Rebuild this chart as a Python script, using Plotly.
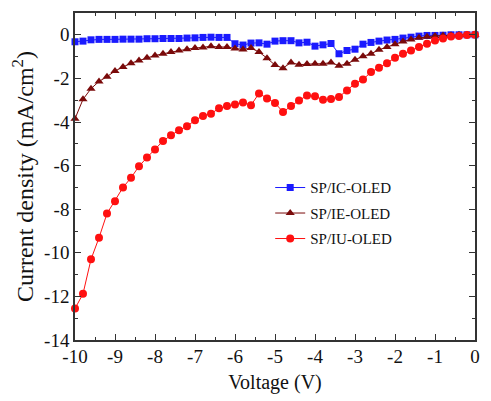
import plotly.graph_objects as go

voltage = [round(-10 + 0.2 * i, 1) for i in range(51)]

ic_oled = [-0.32, -0.29, -0.23, -0.21, -0.21, -0.21, -0.20, -0.20, -0.20, -0.18,
           -0.18, -0.17, -0.17, -0.17, -0.15, -0.14, -0.12, -0.11, -0.12, -0.12,
           -0.41, -0.47, -0.38, -0.37, -0.43, -0.29, -0.27, -0.27, -0.37, -0.34,
           -0.52, -0.46, -0.40, -0.87, -0.72, -0.66, -0.43, -0.35, -0.29, -0.24,
           -0.21, -0.15, -0.11, -0.06, -0.03, -0.03, -0.02, 0.0, 0.0, 0.0, 0.0]

ie_oled = [-3.85, -2.96, -2.47, -2.14, -1.92, -1.66, -1.48, -1.30, -1.18, -1.05,
           -0.95, -0.87, -0.79, -0.72, -0.66, -0.61, -0.58, -0.53, -0.56, -0.56,
           -0.63, -0.67, -0.61, -0.79, -1.07, -1.39, -1.53, -1.27, -1.37, -1.34,
           -1.33, -1.33, -1.27, -1.42, -1.33, -1.15, -0.98, -0.87, -0.69, -0.56,
           -0.43, -0.31, -0.21, -0.14, -0.09, -0.05, -0.03, -0.02, 0.0, 0.0, 0.0]

iu_oled = [-12.56, -11.88, -10.30, -9.31, -8.20, -7.63, -7.00, -6.56, -6.03, -5.63,
           -5.26, -4.87, -4.61, -4.38, -4.20, -3.92, -3.72, -3.62, -3.37, -3.27,
           -3.20, -3.11, -3.23, -2.69, -2.92, -3.13, -3.54, -3.27, -3.01, -2.79,
           -2.82, -2.98, -2.95, -2.85, -2.56, -2.24, -2.05, -1.71, -1.51, -1.30,
           -1.05, -0.87, -0.72, -0.56, -0.41, -0.26, -0.17, -0.08, -0.05, -0.01, 0.0]

x_tickvals = [-10, -9, -8, -7, -6, -5, -4, -3, -2, -1, 0]
x_ticktext = ["-10", "-9", "-8", "-7", "-6", "-5", "-4", "-3", "-2", "-1", "0"]
y_tickvals = [0, -2, -4, -6, -8, -10, -12, -14]
y_ticktext = ["0", "-2", "-4", "-6", "-8", "-10", "-12", "-14"]

series = [
    ("SP/IC-OLED", ic_oled, "#1a1aff", "square", 7),
    ("SP/IE-OLED", ie_oled, "#7a0a0a", "triangle-up", 8),
    ("SP/IU-OLED", iu_oled, "#ff1010", "circle", 8),
]

fig = go.Figure()
for name, vals, color, sym, size in series:
    fig.add_trace(go.Scatter(
        x=voltage, y=vals, name=name, legendgroup=name,
        mode="lines+markers",
        line=dict(color=color, width=1),
        marker=dict(symbol=sym, size=size, color=color),
        cliponaxis=False,
    ))

font_family = "Liberation Serif, Times New Roman, serif"
axis_common = dict(
    showline=True, linecolor="#333333", linewidth=1.5, mirror="ticks",
    ticks="inside", ticklen=6, tickwidth=1.2, tickcolor="#333333",
    showgrid=False, zeroline=False, automargin=False,
    tickfont=dict(family=font_family, size=19, color="#111111"),
)

# the page body adds an 8px offset, so the figure is sized to fit the window
fig.update_layout(
    width=483, height=393,
    margin=dict(l=67, r=16, t=5, b=61),
    paper_bgcolor="white", plot_bgcolor="white",
    font=dict(family=font_family, color="#111111"),
    showlegend=True,
    legend=dict(
        x=0.488, y=0.516, xanchor="left", yanchor="top",
        bgcolor="rgba(0,0,0,0)",
        font=dict(family=font_family, size=15, color="#111111"),
        traceorder="grouped", tracegroupgap=3,
    ),
)
fig.update_xaxes(
    range=[-10, 0], tickvals=x_tickvals, ticktext=x_ticktext,
    minor=dict(dtick=0.5, ticks="inside", ticklen=3, tickcolor="#333333"),
    ticklabelstandoff=-2,
    title=dict(text="Voltage (V)", font=dict(family=font_family, size=20), standoff=9),
    **axis_common,
)
fig.update_yaxes(
    range=[-14, 1], tickvals=y_tickvals, ticktext=y_ticktext,
    minor=dict(dtick=1, ticks="inside", ticklen=3, tickcolor="#333333"),
    title=dict(text="Current density (mA/cm<sup>2</sup>)", font=dict(family=font_family, size=24), standoff=4),
    **axis_common,
)

fig.write_html("out.html")
